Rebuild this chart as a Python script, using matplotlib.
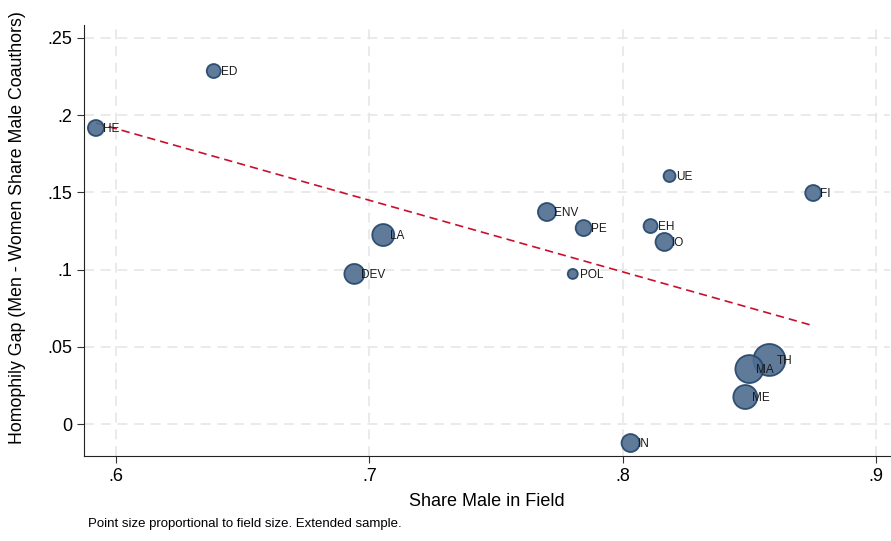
import matplotlib.pyplot as plt
import numpy as np

# Fields: share male, homophily gap, relative field size
fields = ['HE', 'ED', 'LA', 'DEV', 'ENV', 'PE', 'POL', 'UE', 'EH', 'IO',
          'FI', 'TH', 'MA', 'ME', 'IN']
share_male = [0.5921, 0.6386, 0.7055, 0.6941, 0.7701, 0.7846, 0.7803, 0.8185,
              0.8110, 0.8165, 0.8752, 0.8579, 0.8500, 0.8484, 0.8031]
homophily_gap = [0.1917, 0.2286, 0.1224, 0.0972, 0.1373, 0.1269, 0.0972, 0.1606,
                 0.1282, 0.1179, 0.1496, 0.0415, 0.0356, 0.0175, -0.0123]
field_size = [64, 49, 121, 100, 81, 64, 25, 36, 49, 81, 64, 256, 196, 144, 81]

# Linear fit (weighted)
fit_slope = -0.4637
fit_intercept = 0.4695

plt.rcParams['font.family'] = ['Liberation Sans', 'DejaVu Sans']

fig = plt.figure(figsize=(8.91, 5.41), dpi=100)
ax = fig.add_axes([84 / 891, 1 - 456 / 541, 806 / 891, 431 / 541])

x = np.array(share_male)
y = np.array(homophily_gap)
w = np.array(field_size)

# marker area from field size
sizes = w * 2.07
ax.scatter(x, y, s=sizes, facecolor='#4f6d8f', edgecolor='#22456a',
           linewidth=1.3, alpha=0.9, zorder=3)

for name, xi, yi in zip(fields, x, y):
    ax.annotate(name, (xi, yi), xytext=(5, -0.5), textcoords='offset points',
                ha='left', va='center', fontsize=8.5, color='#1a1a1a', zorder=4)

xf = np.array([x.min(), x.max()])
ax.plot(xf, fit_intercept + fit_slope * xf, color='#c8102e', linestyle=(0, (5, 3)),
        linewidth=1.2, zorder=2)

ax.set_xlim(0.5874, 0.9055)
ax.set_ylim(-0.0207, 0.2584)
ax.set_xticks([0.6, 0.7, 0.8, 0.9])
ax.set_xticklabels(['.6', '.7', '.8', '.9'])
ax.set_yticks([0, 0.05, 0.1, 0.15, 0.2, 0.25])
ax.set_yticklabels(['0', '.05', '.1', '.15', '.2', '.25'])
ax.tick_params(labelsize=13, length=5, color='#333333')

ax.grid(True, color='#e6e6e6', linestyle=(0, (6, 4)), linewidth=1.2)
ax.set_axisbelow(True)
for s in ['top', 'right']:
    ax.spines[s].set_visible(False)
ax.spines['left'].set_color('#222222')
ax.spines['bottom'].set_color('#222222')

ax.set_xlabel('Share Male in Field', fontsize=13, labelpad=6)
ax.set_ylabel('Homophily Gap (Men - Women Share Male Coauthors)', fontsize=12.8)
ax.yaxis.set_label_coords(-0.072, 0.53)

fig.text(88 / 891, 1 - 524 / 541, 'Point size proportional to field size. Extended sample.',
         fontsize=9.5, va='center', ha='left')

fig.savefig('out.png', dpi=100)
